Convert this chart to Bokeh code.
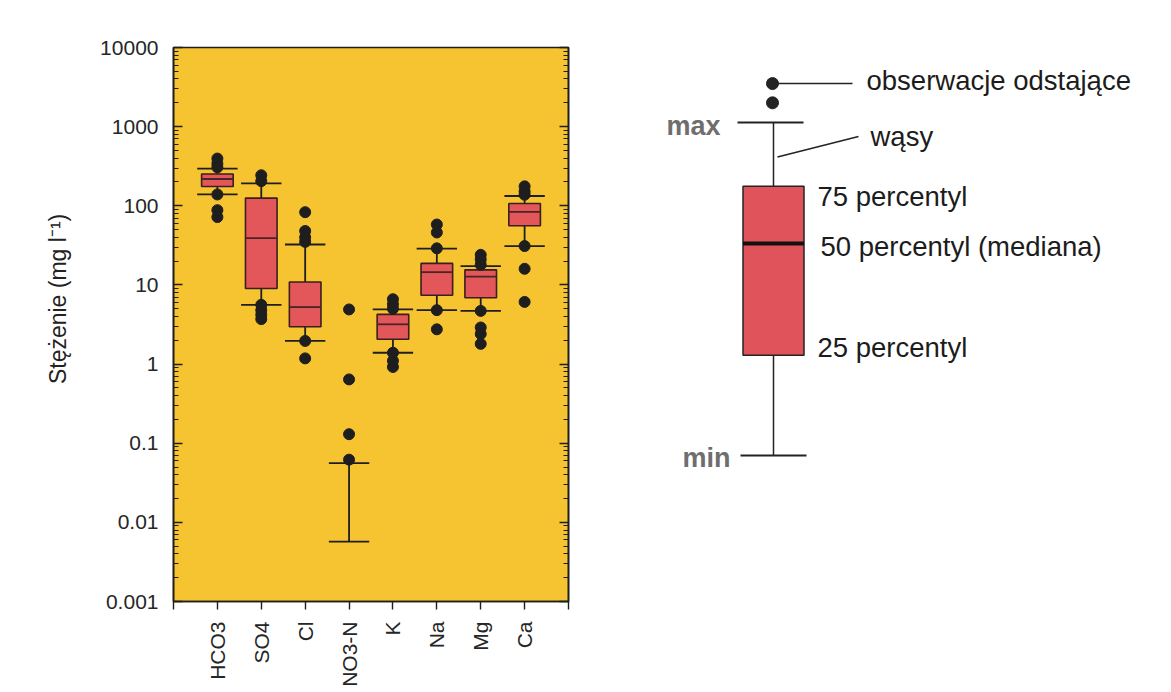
import math
from bokeh.plotting import figure
from bokeh.models import Range1d, FixedTicker, LogAxis, CustomJSTickFormatter
from bokeh.layouts import row
from bokeh.embed import file_html
from bokeh.resources import INLINE
from bokeh.core.properties import value

# ---------------- data ----------------
categories   = ["HCO3", "SO4", "Cl", "NO3-N", "K", "Na", "Mg", "Ca"]
whisker_low  = [139, 5.6, 1.96, 0.0057, 1.39, 4.8, 4.7, 31]
box_q1       = [175, 9.0, 2.96, None, 2.06, 7.4, 6.9, 56]
box_median   = [218, 39, 5.25, None, 3.18, 14.5, 12.7, 84]
box_q3       = [252, 125, 10.9, None, 4.25, 18.7, 15.5, 107]
whisker_high = [295, 192, 32.4, 0.056, 4.9, 28.8, 17.3, 133]

outlier_cat = (["HCO3"] * 6 + ["SO4"] * 6 + ["Cl"] * 6 + ["NO3-N"] * 4 +
               ["K"] * 6 + ["Na"] * 5 + ["Mg"] * 7 + ["Ca"] * 6)
outlier_val = ([395, 341, 306, 139, 88, 72,
                243, 205, 5.6, 4.8, 4.2, 3.7,
                83, 48, 40, 35, 1.96, 1.18,
                4.9, 0.64, 0.13, 0.062,
                6.6, 5.7, 5.0, 1.39, 1.1, 0.92,
                58, 46, 29, 4.8, 2.75,
                24, 21, 18, 4.7, 2.9, 2.4, 1.8,
                176, 152, 138, 31, 16, 6.1])

y_ticks = [0.001, 0.01, 0.1, 1, 10, 100, 1000, 10000]
y_tick_labels = ["0.001", "0.01", "0.1", "1", "10", "100", "1000", "10000"]
y_label = "Stężenie (mg l⁻¹)"

# schematic legend example (same log scale)
leg_outliers = [3500, 2000]
leg_max = 1127
leg_q3 = 176
leg_median = 33.3
leg_q1 = 1.29
leg_min = 0.070
leg_texts = ["obserwacje odstające", "wąsy", "75 percentyl",
             "50 percentyl (mediana)", "25 percentyl"]

# ---------------- styling ----------------
FONT = "Liberation Sans"
YELLOW = "#f6c431"
BOXRED = "#e3575b"
DARK = "#1e1e1e"
BG = "#ffffff"
TOP = 47
BOTTOM = 87

# ---------------- main chart ----------------
p = figure(frame_width=395, frame_height=554,
           min_border_left=173, min_border_right=11,
           min_border_top=TOP, min_border_bottom=BOTTOM,
           x_range=Range1d(0, len(categories) + 1),
           y_range=Range1d(y_ticks[0], y_ticks[-1]),
           y_axis_type="log", output_backend="svg", toolbar_location=None,
           background_fill_color=YELLOW, border_fill_color=BG)
p.grid.visible = False
p.outline_line_color = DARK
p.outline_line_width = 1.6

fmt = CustomJSTickFormatter(args=dict(tvals=y_ticks, tlabels=y_tick_labels), code="""
let best = 0, d = Infinity;
for (let i = 0; i < tvals.length; i++) {
  const e = Math.abs(Math.log10(tick) - Math.log10(tvals[i]));
  if (e < d) { d = e; best = i; }
}
return tlabels[best];
""")
minor = [m * 10.0 ** e for e in range(-3, 4) for m in range(2, 10)]

ya = p.yaxis[0]
ya.ticker = FixedTicker(ticks=y_ticks, minor_ticks=minor)
ya.formatter = fmt
ya.major_tick_in = 9
ya.major_tick_out = 0
ya.minor_tick_in = 5
ya.minor_tick_out = 0
ya.axis_line_color = DARK
ya.axis_line_width = 1.6
ya.major_tick_line_color = DARK
ya.minor_tick_line_color = DARK
ya.major_tick_line_width = 1.4
ya.minor_tick_line_width = 1.2
ya.major_label_standoff = 15
ya.major_label_text_font = FONT
ya.major_label_text_font_size = "21px"
ya.major_label_text_color = "#262626"
ya.axis_label = "\u00a0" * 8 + y_label
ya.axis_label_text_font = FONT
ya.axis_label_text_font_size = "23px"
ya.axis_label_text_font_style = "normal"
ya.axis_label_text_color = "#222222"
ya.axis_label_standoff = 26

ra = LogAxis(ticker=FixedTicker(ticks=y_ticks, minor_ticks=minor),
             formatter=CustomJSTickFormatter(code="return ''"),
             major_tick_in=9, major_tick_out=0, minor_tick_in=5, minor_tick_out=0,
             major_label_standoff=0, axis_line_color=DARK, axis_line_width=1.6,
             major_tick_line_color=DARK, minor_tick_line_color=DARK,
             major_tick_line_width=1.4, minor_tick_line_width=1.2)
p.add_layout(ra, "right")

xa = p.xaxis[0]
xa.ticker = FixedTicker(ticks=list(range(0, len(categories) + 2)), minor_ticks=[])
xa.major_label_overrides = {i + 1: c for i, c in enumerate(categories)} | {0: "", len(categories) + 1: ""}
xa.major_label_orientation = math.pi / 2
xa.major_tick_in = 0
xa.major_tick_out = 8
xa.minor_tick_in = 0
xa.minor_tick_out = 0
xa.major_label_standoff = 12
xa.axis_line_color = DARK
xa.axis_line_width = 1.6
xa.major_tick_line_color = DARK
xa.major_tick_line_width = 1.4
xa.major_label_text_font = FONT
xa.major_label_text_font_size = "21px"
xa.major_label_text_color = "#262626"

pos = {c: i + 1 for i, c in enumerate(categories)}
bw = 0.72
cw = 0.46

# whiskers
wx0, wy0, wy1 = [], [], []
for c, lo, q1, q3, hi in zip(categories, whisker_low, box_q1, box_q3, whisker_high):
    x = pos[c]
    if q1 is None:
        wx0.append(x); wy0.append(lo); wy1.append(hi)
    else:
        wx0 += [x, x]; wy0 += [lo, q3]; wy1 += [q1, hi]
p.segment(x0=wx0, y0=wy0, x1=wx0, y1=wy1, line_color=DARK, line_width=1.8)

# boxes
bx = [pos[c] for c, q in zip(categories, box_q1) if q is not None]
bq1 = [q for q in box_q1 if q is not None]
bq3 = [q for q in box_q3 if q is not None]
bmed = [q for q in box_median if q is not None]
p.vbar(x=bx, width=bw, bottom=bq1, top=bq3, fill_color=BOXRED,
       line_color="#3a1f1f", line_width=1.6)
p.segment(x0=[x - bw / 2 for x in bx], y0=bmed, x1=[x + bw / 2 for x in bx], y1=bmed,
          line_color="#4a2525", line_width=1.8)

# caps
cx = [pos[c] for c in categories]
p.segment(x0=[x - cw for x in cx], y0=whisker_low, x1=[x + cw for x in cx], y1=whisker_low,
          line_color=DARK, line_width=1.8)
p.segment(x0=[x - cw for x in cx], y0=whisker_high, x1=[x + cw for x in cx], y1=whisker_high,
          line_color=DARK, line_width=1.8)

# outliers
p.scatter(x=[pos[c] for c in outlier_cat], y=outlier_val, size=11,
          fill_color=DARK, line_color=DARK)

# ---------------- schematic legend ----------------
LW = 576
leg = figure(frame_width=LW, frame_height=554,
             min_border_left=0, min_border_right=0,
             min_border_top=TOP, min_border_bottom=BOTTOM,
             x_range=Range1d(0, LW), y_range=Range1d(y_ticks[0], y_ticks[-1]),
             y_axis_type="log", x_axis_location=None, y_axis_location=None,
             output_backend="svg", toolbar_location=None,
             background_fill_color=BG, border_fill_color=BG)
leg.grid.visible = False
leg.outline_line_color = None

xc = 194
lbw = 61
lcw = 66
LC = "#232323"
leg.segment(x0=[xc, xc], y0=[leg_min, leg_q3], x1=[xc, xc], y1=[leg_q1, leg_max],
            line_color=LC, line_width=1.5)
leg.vbar(x=[xc], width=lbw, bottom=[leg_q1], top=[leg_q3], fill_color="#e0535a",
         line_color=LC, line_width=1.5)
leg.segment(x0=[xc - lbw / 2], y0=[leg_median], x1=[xc + lbw / 2], y1=[leg_median],
            line_color="#111111", line_width=4)
leg.segment(x0=[xc - lcw / 2 - 3, xc - lcw / 2], y0=[leg_max, leg_min],
            x1=[xc + lcw / 2 - 3, xc + lcw / 2], y1=[leg_max, leg_min],
            line_color=LC, line_width=2)
leg.scatter(x=[xc - 1] * len(leg_outliers), y=leg_outliers, size=12,
            fill_color=LC, line_color=LC)
# leader lines
leg.segment(x0=[xc], y0=[leg_outliers[0]], x1=[xc + 79], y1=[leg_outliers[0]],
            line_color=LC, line_width=1.5)
lq3, lmax = math.log10(leg_q3), math.log10(leg_max)
w_start = 10 ** (lq3 + 0.46 * (lmax - lq3))
w_end = 10 ** (lq3 + 0.78 * (lmax - lq3))
leg.segment(x0=[xc + 4], y0=[w_start], x1=[xc + 85], y1=[w_end],
            line_color=LC, line_width=1.5)

leg.text(x=[xc + 93, xc + 97, xc + 44, xc + 47, xc + 44],
         y=[leg_outliers[0], w_end, leg_q3, leg_median, leg_q1],
         y_offset=[-3, 0, 10, 3, -8],
         text=leg_texts, text_font=value(FONT), text_font_size="27.5px",
         text_color="#1c1c1c", text_baseline="middle", text_align="left")
leg.text(x=[xc - 53, xc - 43], y=[leg_max, leg_min], y_offset=[3, 3],
         text=["max", "min"], text_font=value(FONT), text_font_size="27px",
         text_font_style="bold", text_color="#6e6e6e",
         text_baseline="middle", text_align="right")

layout = row(p, leg)
open("out.html", "w").write(file_html(layout, INLINE))
